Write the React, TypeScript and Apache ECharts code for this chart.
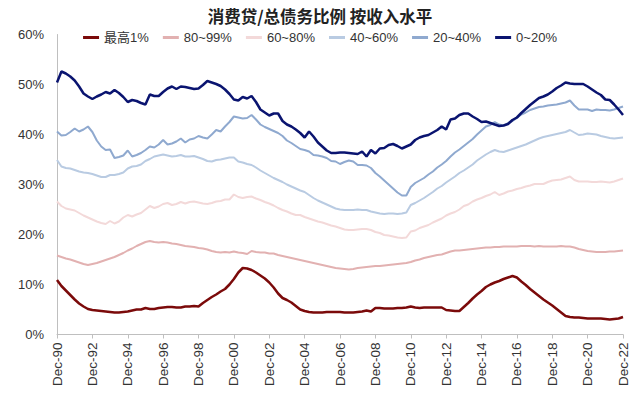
import React, { useEffect, useRef } from "react";
import * as echarts from "echarts";

const seriesNames = ["最高1%", "80~99%", "60~80%", "40~60%", "20~40%", "0~20%"];
const seriesColors = ["#7B0A0A", "#E2B1B1", "#F3D9D9", "#B9CBE2", "#8FA9CF", "#0A1470"];

const top1 = [10.9,9.7,8.8,7.9,7.0,6.2,5.6,5.1,4.9,4.8,4.7,4.6,4.5,4.4,4.4,4.5,4.6,4.8,5.0,5.0,5.3,5.1,5.1,5.3,5.4,5.5,5.5,5.4,5.4,5.6,5.6,5.7,5.6,6.3,6.9,7.5,8.0,8.6,9.1,10.0,11.1,12.4,13.3,13.2,12.9,12.4,11.8,11.2,10.4,9.4,8.2,7.3,6.9,6.4,5.7,5.0,4.7,4.5,4.4,4.4,4.4,4.5,4.5,4.5,4.5,4.4,4.4,4.4,4.5,4.6,4.8,4.6,5.3,5.3,5.2,5.2,5.2,5.3,5.3,5.4,5.6,5.4,5.3,5.4,5.4,5.4,5.4,5.4,4.9,4.8,4.7,4.7,5.5,6.3,7.2,8.0,8.7,9.5,10.0,10.4,10.7,11.1,11.4,11.7,11.4,10.6,9.9,9.1,8.4,7.7,7.0,6.4,5.8,5.1,4.4,3.7,3.5,3.4,3.4,3.3,3.2,3.2,3.2,3.2,3.1,3.0,3.1,3.2,3.5];

const p80to99 = [15.8,15.5,15.2,15.0,14.7,14.4,14.1,13.9,14.1,14.3,14.6,14.9,15.2,15.5,15.9,16.3,16.8,17.2,17.7,18.1,18.5,18.7,18.5,18.4,18.5,18.4,18.2,18.1,17.9,17.7,17.6,17.5,17.3,17.2,17.0,16.7,16.5,16.4,16.5,16.4,16.6,16.4,16.3,16.1,16.7,16.5,16.4,16.4,16.2,16.2,15.9,15.7,15.5,15.3,15.1,14.9,14.7,14.5,14.3,14.1,13.9,13.7,13.5,13.3,13.2,13.1,13.0,13.1,13.3,13.4,13.5,13.6,13.7,13.7,13.8,13.9,14.0,14.1,14.2,14.3,14.5,14.8,15.0,15.3,15.5,15.7,15.9,16.0,16.3,16.6,16.8,16.8,16.9,17.0,17.1,17.2,17.3,17.4,17.4,17.5,17.5,17.6,17.6,17.6,17.6,17.7,17.7,17.7,17.6,17.7,17.6,17.6,17.6,17.6,17.7,17.6,17.6,17.4,17.1,16.9,16.7,16.6,16.5,16.5,16.5,16.6,16.6,16.7,16.8];

const p60to80 = [26.6,25.7,25.2,25.0,24.8,24.3,23.8,23.4,23.0,22.6,22.3,22.1,22.7,22.2,22.6,23.4,23.9,23.6,24.0,24.3,25.0,25.7,25.3,25.6,26.1,26.3,25.9,26.1,26.5,26.2,26.5,26.6,26.4,26.2,26.1,26.3,26.6,26.7,27.0,27.0,28.0,27.5,27.3,27.5,27.6,27.2,26.9,26.5,26.2,25.8,25.3,24.9,24.6,24.2,23.9,23.9,23.5,23.2,22.9,22.6,22.4,22.1,21.8,21.6,21.3,21.0,20.9,20.9,21.0,21.1,21.1,20.9,20.5,20.3,19.9,19.8,19.6,19.4,19.3,19.4,20.6,20.8,21.3,21.6,21.9,22.4,22.8,23.2,23.8,24.2,24.5,25.0,25.7,26.0,26.6,27.0,27.3,27.7,28.0,28.5,27.9,28.2,28.6,28.8,29.1,29.3,29.6,29.8,30.1,30.1,30.1,30.5,30.8,30.9,31.0,31.3,31.6,30.9,30.6,30.6,30.6,30.5,30.5,30.6,30.5,30.4,30.6,30.9,31.2];

const p40to60 = [34.9,33.6,33.3,33.2,32.9,32.6,32.4,32.3,32.1,31.8,31.5,31.5,31.9,31.9,32.1,32.4,33.2,33.6,33.7,34.0,34.7,35.1,35.6,35.8,36.0,35.8,35.6,35.7,35.9,35.6,35.6,35.7,35.4,35.1,34.7,34.6,34.9,35.0,35.2,35.4,35.4,34.6,34.4,34.1,33.9,33.4,32.8,32.3,31.8,31.3,30.9,30.5,30.0,29.6,29.2,28.8,28.5,27.9,27.3,26.8,26.4,26.0,25.6,25.2,25.0,24.9,24.9,24.9,25.0,24.9,24.9,24.6,24.4,24.2,24.1,24.2,24.2,24.1,24.2,24.4,25.9,26.3,26.8,27.3,27.9,28.5,29.2,29.7,30.4,31.0,31.6,32.3,32.8,33.4,34.0,34.8,35.4,36.0,36.5,36.9,36.6,36.5,36.8,37.1,37.4,37.7,38.0,38.4,38.8,39.2,39.5,39.7,39.9,40.1,40.3,40.5,40.9,40.4,39.9,40.0,40.2,40.1,40.0,39.7,39.5,39.3,39.2,39.3,39.4];

const p20to40 = [40.6,39.8,39.9,40.5,41.2,40.6,41.0,41.6,40.5,38.8,37.6,36.9,37.0,35.3,35.5,35.8,36.8,35.6,35.9,36.3,36.9,37.6,37.4,38.0,38.9,38.0,38.2,38.6,39.2,38.4,39.0,39.2,39.7,39.4,39.2,40.0,40.9,40.6,41.6,42.5,43.6,43.4,43.2,43.3,43.9,43.0,42.0,41.5,41.1,40.7,40.3,39.7,38.8,38.3,37.7,37.1,36.9,36.6,35.9,35.8,35.6,35.3,34.7,34.6,34.1,34.5,34.8,34.6,33.9,33.9,33.8,33.3,32.3,31.6,30.8,30.0,29.2,28.4,27.8,27.8,29.5,30.3,30.8,31.3,32.0,32.6,33.4,34.0,34.7,35.6,36.4,37.0,37.7,38.4,39.1,40.0,40.8,41.6,41.9,42.5,42.0,41.8,42.3,42.7,43.3,44.0,44.4,44.9,45.2,45.5,45.6,45.8,45.9,46.0,46.2,46.4,46.8,45.8,45.0,45.0,45.0,44.7,45.0,44.9,44.9,44.8,45.0,45.3,45.6];

const p0to20 = [50.4,52.6,52.2,51.6,50.8,49.6,48.2,47.6,47.1,47.6,48.0,48.5,48.2,48.9,48.3,47.5,46.5,46.9,46.7,46.3,46.0,48.0,47.7,47.7,48.5,49.2,49.6,49.1,49.6,49.5,49.3,49.1,49.2,49.9,50.7,50.4,50.1,49.7,49.0,48.1,47.0,46.8,47.5,47.2,47.7,46.5,45.0,44.4,43.8,44.2,44.2,42.7,42.0,41.6,41.0,40.3,39.4,40.6,39.6,38.4,37.6,36.8,36.3,36.3,36.4,36.4,36.3,36.2,36.1,36.6,35.6,36.9,36.2,37.2,37.3,37.9,38.1,37.7,37.2,37.6,38.0,38.9,39.4,39.7,39.9,40.4,40.9,41.6,41.0,43.0,43.2,43.9,44.2,44.2,43.6,43.1,42.5,42.6,42.3,42.0,41.7,41.8,42.1,42.9,43.4,44.3,45.1,45.9,46.6,47.3,47.6,48.0,48.6,49.3,49.8,50.4,50.2,50.1,50.1,50.1,49.6,49.0,48.4,47.9,47.0,46.9,46.0,45.0,43.9];

const monthNames = ["Dec", "Mar", "Jun", "Sep"];
const categories: string[] = top1.map((_, i) => {
  const q = i % 4;
  const year = 1990 + Math.floor((i + 3) / 4);
  const yy = String(year % 100).padStart(2, "0");
  return `${monthNames[q]}-${yy}`;
});

const allSeries = [top1, p80to99, p60to80, p40to60, p20to40, p0to20];
const lineWidths = [2.5, 2, 2, 2, 2, 2.5];

export default function App() {
  const ref = useRef<HTMLDivElement>(null);
  useEffect(() => {
    if (!ref.current) return;
    const chart = echarts.init(ref.current, undefined, { renderer: "svg" });
    chart.setOption({
      animation: false,
      backgroundColor: "#ffffff",
      title: {
        text: "消费贷/总债务比例 按收入水平",
        left: "center",
        top: 3,
        textStyle: {
          fontFamily: "Noto Sans CJK SC",
          fontSize: 16.5,
          fontWeight: "bold",
          color: "#222",
        },
      },
      legend: {
        top: 26,
        left: "center",
        itemWidth: 16,
        itemHeight: 3,
        itemGap: 14,
        icon: "rect",
        textStyle: { fontFamily: "Liberation Sans, Noto Sans CJK SC", fontSize: 13, color: "#333" },
        data: seriesNames,
      },
      grid: { left: 57, right: 17, top: 34.5, bottom: 63.5 },
      xAxis: {
        type: "category",
        data: categories,
        boundaryGap: false,
        axisLine: { lineStyle: { color: "#bfbfbf", width: 1 } },
        axisTick: { interval: 7, length: 4, lineStyle: { color: "#bfbfbf" } },
        axisLabel: {
          interval: 7,
          rotate: 90,
          fontFamily: "Liberation Sans",
          fontSize: 13.5,
          color: "#333",
          margin: 8,
        },
        splitLine: { show: false },
      },
      yAxis: {
        type: "value",
        min: 0,
        max: 60,
        interval: 10,
        axisLine: { show: true, lineStyle: { color: "#bfbfbf" } },
        axisTick: { show: false },
        splitLine: { show: false },
        axisLabel: {
          formatter: "{value}%",
          fontFamily: "Liberation Sans",
          fontSize: 13,
          color: "#333",
          margin: 13,
        },
      },
      series: allSeries.map((d, k) => ({
        name: seriesNames[k],
        type: "line",
        data: d,
        showSymbol: false,
        symbol: "none",
        lineStyle: { color: seriesColors[k], width: lineWidths[k] },
        itemStyle: { color: seriesColors[k] },
        z: k + 2,
      })),
    });
    return () => chart.dispose();
  }, []);
  return <div ref={ref} style={{ width: 640, height: 398, position: "absolute", left: 0, top: 0 }} />;
}
